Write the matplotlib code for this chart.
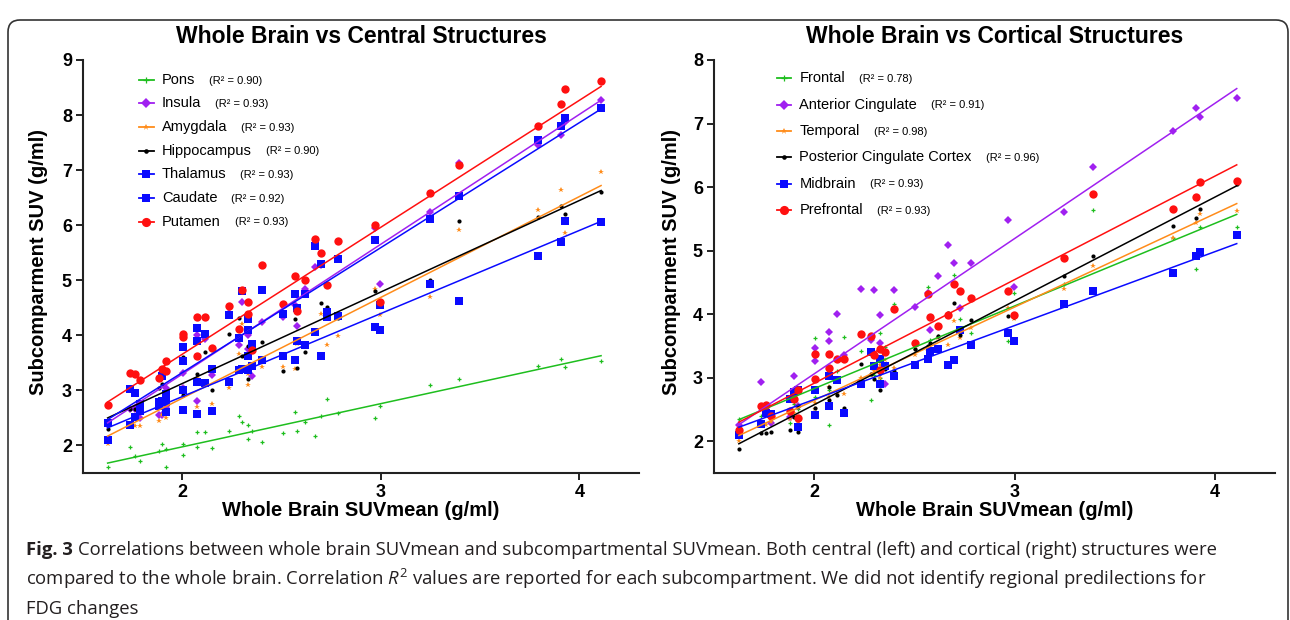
import numpy as np
import matplotlib
matplotlib.use("Agg")
import matplotlib.pyplot as plt
from matplotlib.patches import FancyBboxPatch
from matplotlib.transforms import IdentityTransform

plt.rcParams['font.family'] = ['Liberation Sans', 'DejaVu Sans']
plt.rcParams['mathtext.fontset'] = 'custom'
plt.rcParams['mathtext.rm'] = 'Open Sans'
plt.rcParams['mathtext.it'] = 'Open Sans:italic'

# whole brain SUVmean per subject (shared by both panels)
whole_brain = [1.624, 1.737, 1.760, 1.785, 1.881, 1.898, 1.919, 1.919, 2.002, 2.002,
               2.075, 2.075, 2.113, 2.148, 2.234, 2.284, 2.301, 2.330, 2.330, 2.351,
               2.399, 2.505, 2.566, 2.576, 2.618, 2.668, 2.697, 2.727, 2.783, 2.969,
               2.998, 3.249, 3.393, 3.792, 3.906, 3.925, 4.109]

# central structures
central_names = ["Pons", "Insula", "Amygdala", "Hippocampus", "Thalamus", "Caudate", "Putamen"]
central_r2 = ["0.90", "0.93", "0.93", "0.90", "0.93", "0.92", "0.93"]
pons = [1.61, 1.98, 1.80, 1.71, 1.90, 2.02, 1.94, 1.61, 2.03, 1.82, 1.97, 2.24, 2.25, 1.96, 2.27,
        2.53, 2.42, 2.38, 2.12, 2.27, 2.07, 2.23, 2.61, 2.27, 2.42, 2.18, 2.54, 2.85, 2.59, 2.50,
        2.71, 3.09, 3.20, 3.45, 3.57, 3.42, 3.54]
insula = [2.38, 2.67, 2.67, 2.50, 2.55, 2.55, 2.70, 3.05, 3.32, 3.05, 2.80, 4.00, 3.93, 3.28, 4.40,
          3.82, 4.60, 4.00, 3.75, 3.26, 4.25, 4.33, 4.55, 4.17, 4.85, 5.25, 5.27, 4.38, 5.38, 5.95,
          4.93, 6.24, 7.13, 7.46, 7.63, 7.88, 8.27]
amygdala = [2.03, 2.38, 2.36, 2.36, 2.45, 2.55, 2.80, 2.50, 2.65, 3.05, 2.70, 3.22, 3.10, 2.75, 3.05,
            3.67, 4.20, 3.30, 3.10, 3.45, 3.42, 3.42, 3.39, 3.85, 3.85, 4.05, 4.39, 3.82, 3.98, 4.85,
            4.37, 4.69, 5.92, 6.28, 6.64, 5.86, 6.97]
hippocampus = [2.30, 2.67, 2.67, 2.68, 3.05, 3.12, 2.82, 2.80, 3.60, 2.92, 2.60, 3.30, 3.70, 3.00, 4.03,
               4.32, 3.62, 3.20, 3.80, 3.77, 3.87, 3.35, 4.29, 3.40, 3.70, 4.06, 4.58, 4.51, 4.32, 4.80,
               4.10, 5.01, 6.08, 6.14, 6.34, 6.21, 6.61]
thalamus = [2.40, 3.02, 2.95, 2.76, 2.79, 3.27, 2.94, 2.88, 3.78, 3.53, 4.14, 3.89, 4.02, 3.38, 4.37,
            3.96, 4.80, 4.30, 4.10, 3.85, 4.83, 4.39, 4.75, 4.49, 4.75, 5.63, 5.29, 4.42, 5.39, 5.74,
            4.55, 6.12, 6.53, 7.54, 7.81, 7.95, 8.12]
caudate = [2.10, 2.38, 2.52, 2.62, 2.72, 2.80, 2.60, 2.79, 2.64, 3.01, 2.58, 3.16, 3.14, 2.62, 3.16,
           3.37, 3.39, 3.62, 3.37, 3.45, 3.55, 3.62, 3.55, 3.89, 3.83, 4.06, 3.63, 4.33, 4.35, 4.15,
           4.10, 4.93, 4.62, 5.44, 5.70, 6.08, 6.05]
putamen = [2.74, 3.32, 3.30, 3.18, 3.23, 3.39, 3.54, 3.36, 4.03, 3.97, 4.33, 3.63, 4.34, 3.77, 4.54,
           4.12, 4.83, 4.60, 4.39, 3.74, 5.27, 4.57, 5.07, 4.45, 5.01, 5.75, 5.50, 4.92, 5.71, 6.01,
           4.60, 6.58, 7.10, 7.81, 8.20, 8.47, 8.61]
# regression line values at the lowest and highest whole brain value
central_fit_lo = [1.68, 2.41, 2.17, 2.50, 2.47, 2.32, 2.79]
central_fit_hi = [3.63, 8.27, 6.72, 6.63, 8.11, 6.07, 8.52]

# cortical structures
cortical_names = ["Frontal", "Anterior Cingulate", "Temporal", "Posterior Cingulate Cortex",
                  "Midbrain", "Prefrontal"]
cortical_r2 = ["0.78", "0.91", "0.98", "0.96", "0.93", "0.93"]
frontal = [2.35, 2.40, 2.45, 2.40, 2.28, 2.58, 2.50, 2.20, 3.63, 2.70, 2.25, 2.80, 3.10, 3.64, 3.42,
           2.65, 3.05, 3.70, 3.00, 3.48, 4.16, 3.45, 4.43, 3.60, 3.65, 4.00, 4.62, 3.92, 3.71, 3.58,
           4.33, 4.48, 5.64, 5.20, 4.71, 5.37, 5.37]
ant_cingulate = [2.26, 2.93, 2.55, 2.28, 2.38, 3.02, 2.25, 2.55, 3.47, 3.27, 3.72, 3.58, 4.00, 3.36, 4.40,
                 3.60, 4.38, 3.98, 3.55, 2.90, 4.38, 4.12, 4.33, 3.75, 4.60, 5.09, 4.80, 4.10, 4.80, 5.48,
                 4.43, 5.61, 6.32, 6.88, 7.25, 7.10, 7.40]
temporal = [2.00, 2.25, 2.25, 2.30, 2.35, 2.45, 2.30, 2.55, 2.60, 2.50, 2.70, 2.85, 2.75, 2.75, 3.00,
            3.05, 3.10, 3.20, 3.00, 3.28, 3.15, 3.35, 3.42, 3.50, 3.62, 3.52, 3.90, 3.62, 3.78, 4.10,
            3.93, 4.40, 4.75, 5.20, 5.44, 5.58, 5.62]
post_cingulate = [1.88, 2.13, 2.13, 2.15, 2.18, 2.38, 2.15, 2.55, 2.52, 2.45, 2.85, 2.65, 2.72, 2.52, 3.22,
                  3.06, 2.98, 3.07, 2.80, 3.14, 3.10, 3.45, 3.50, 3.55, 3.66, 4.02, 4.18, 3.67, 3.91, 3.97,
                  3.96, 4.60, 4.91, 5.39, 5.52, 5.65, 6.05]
midbrain = [2.10, 2.27, 2.45, 2.43, 2.67, 2.77, 2.22, 2.80, 2.80, 2.42, 3.02, 2.55, 2.97, 2.45, 2.90,
            3.40, 3.18, 3.30, 2.90, 3.18, 3.02, 3.20, 3.30, 3.42, 3.45, 3.20, 3.28, 3.75, 3.52, 3.70,
            3.58, 4.16, 4.37, 4.65, 4.92, 4.98, 5.25]
prefrontal = [2.17, 2.55, 2.57, 2.40, 2.48, 2.66, 2.37, 2.80, 3.37, 2.98, 3.38, 3.15, 3.30, 3.30, 3.68,
              3.65, 3.35, 3.45, 3.12, 3.40, 4.08, 3.55, 4.31, 3.95, 3.82, 3.98, 4.48, 4.37, 4.25, 4.37,
              3.98, 4.88, 5.89, 5.66, 5.85, 6.08, 6.10]
cortical_fit_lo = [2.34, 2.26, 2.09, 1.96, 2.22, 2.30]
cortical_fit_hi = [5.57, 7.55, 5.74, 6.02, 5.11, 6.35]

GREEN = "#1ebe1e"
PURPLE = "#a020f0"
ORANGE = "#ff8c1a"
BLUE = "#0a0aff"
RED = "#ff1010"

# (color, marker, markersize, marker edge width)
central_styles = [(GREEN, "+", 3.5, 0.9), (PURPLE, "D", 4.4, 0), (ORANGE, "*", 4.2, 0),
                  ("black", "o", 3.0, 0), (BLUE, "s", 5.3, 0), (BLUE, "s", 5.3, 0), (RED, "o", 6, 0)]
cortical_styles = [(GREEN, "+", 3.5, 0.9), (PURPLE, "D", 4.4, 0), (ORANGE, "*", 4.2, 0),
                   ("black", "o", 3.0, 0), (BLUE, "s", 5.3, 0), (RED, "o", 6, 0)]


def draw_panel(ax, names, r2s, series, lo, hi, styles, title, ymax, legend_pos):
  x = np.array(whole_brain)
  for ys, a, b, (c, m, ms, mew) in zip(series, lo, hi, styles):
    ax.plot(x, ys, linestyle="none", marker=m, color=c, markersize=ms,
            markeredgewidth=mew, markeredgecolor=c, zorder=3)
    ax.plot([x.min(), x.max()], [a, b], color=c, lw=1.1, zorder=4)

  ax.set_xlim(1.5, 4.3)
  ax.set_ylim(1.5, ymax)
  ax.set_xticks([2, 3, 4], ["2", "3", "4"], fontweight="bold")
  yt = list(range(2, ymax + 1))
  ax.set_yticks(yt, [str(v) for v in yt], fontweight="bold")
  ax.tick_params(width=1.4, length=5, labelsize=13, pad=3, color="#222222")
  for s in ["top", "right"]:
    ax.spines[s].set_visible(False)
  for s in ["left", "bottom"]:
    ax.spines[s].set_linewidth(1.5)
    ax.spines[s].set_color("#222222")

  ax.set_title(title, fontsize=16.5, fontweight="bold", pad=12)
  ax.set_xlabel("Whole Brain SUVmean (g/ml)", fontsize=14.5, fontweight="bold", va="center")
  ax.xaxis.set_label_coords(0.5, -0.092)

  # hand made legend, names and R2 in two sizes
  hx0, hx1, tx, ty, step = legend_pos
  for i, (name, r2, (c, m, ms, mew)) in enumerate(zip(names, r2s, styles)):
    y = ty - i * step
    ax.plot([hx0, hx1], [y, y], color=c, lw=1.3, transform=ax.transAxes, clip_on=False)
    ax.plot([(hx0 + hx1) / 2], [y], marker=m, color=c, markersize=ms * 1.1,
            markeredgewidth=mew, markeredgecolor=c, transform=ax.transAxes, clip_on=False)
    t = ax.text(tx, y, name, fontsize=10.5, va="center", ha="left", transform=ax.transAxes)
    ax.annotate("(R² = %s)" % r2, xy=(1, 0.5), xycoords=t, xytext=(10, -0.5),
                textcoords="offset points", fontsize=8, va="center", ha="left")


fig = plt.figure(figsize=(12.9, 6.2), dpi=100)

ax1 = fig.add_axes([83 / 1290, 147 / 620, 556 / 1290, 413 / 620])
ax2 = fig.add_axes([714 / 1290, 147 / 620, 561 / 1290, 413 / 620])

draw_panel(ax1, central_names, central_r2,
           [pons, insula, amygdala, hippocampus, thalamus, caudate, putamen],
           central_fit_lo, central_fit_hi, central_styles,
           "Whole Brain vs Central Structures", 9,
           (0.10, 0.128, 0.142, 0.952, 0.0572))
ax1.set_ylabel("Subcomparment SUV (g/ml)", fontsize=14.5, fontweight="bold", va="center")
ax1.yaxis.set_label_coords(-0.080, 0.511)

draw_panel(ax2, cortical_names, cortical_r2,
           [frontal, ant_cingulate, temporal, post_cingulate, midbrain, prefrontal],
           cortical_fit_lo, cortical_fit_hi, cortical_styles,
           "Whole Brain vs Cortical Structures", 8,
           (0.112, 0.137, 0.152, 0.956, 0.0638))
ax2.set_ylabel("Subcomparment SUV (g/ml)", fontsize=14.5, fontweight="bold", va="center")
ax2.yaxis.set_label_coords(-0.075, 0.511)

# rounded frame around the figure
frame = FancyBboxPatch((8, -40), 1280, 640, boxstyle="round,pad=0,rounding_size=12",
                       transform=IdentityTransform(), fill=False, lw=1.2, ec="#333333")
fig.add_artist(frame)

# caption
cap_font = dict(fontsize=13.3, family=["Open Sans", "DejaVu Sans"], color="#231f20")
f3 = fig.text(26 / 1290, 1 - 555 / 620, "Fig. 3", fontweight="bold", va="baseline", **cap_font)
plt.annotate("Correlations between whole brain SUVmean and subcompartmental SUVmean. "
             "Both central (left) and cortical (right) structures were",
             xy=(1, 0), xycoords=f3, xytext=(4, 0), textcoords="offset points",
             ha="left", va="bottom", annotation_clip=False, **cap_font)
fig.text(26 / 1290, 1 - 585 / 620,
         r"compared to the whole brain. Correlation $\mathit{R}^{2}$ values are reported for each "
         "subcompartment. We did not identify regional predilections for",
         va="baseline", **cap_font)
fig.text(26 / 1290, 1 - 614 / 620, "FDG changes", va="baseline", **cap_font)

fig.savefig("out.png", dpi=100)
